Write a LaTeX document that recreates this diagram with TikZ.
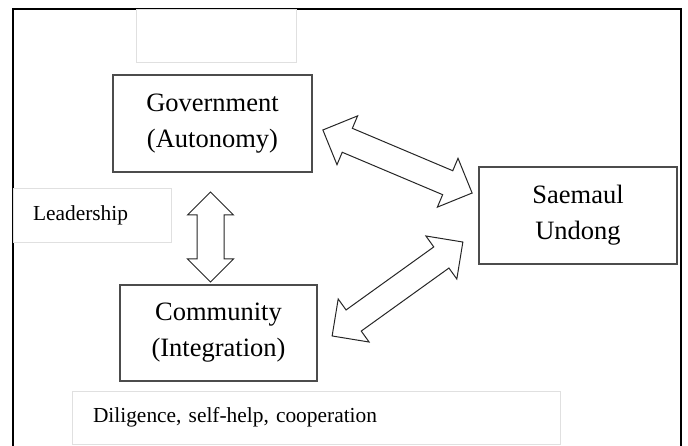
\documentclass[tikz,border=0pt]{standalone}
\usepackage{fontspec}
\setmainfont{Liberation Serif}
\usetikzlibrary{shapes.arrows}

\tikzset{
  mainbox/.style={draw=black!70, line width=1.6pt, align=center,
    font=\fontsize{26.5}{36}\selectfont},
  softbox/.style={draw=black!12, line width=0.8pt, inner ysep=0pt,
    font=\fontsize{21.4}{24}\selectfont, align=left},
  fatarrow/.style={double arrow, draw=black!85, fill=white, line width=1pt,
    inner xsep=0pt, double arrow tip angle=90}
}

\begin{document}
\begin{tikzpicture}[x=1pt, y=-1pt]
  \useasboundingbox (0,0) rectangle (688,446);

  % Outer frame (bottom edge runs off the page)
  \draw[line width=1.4pt] (13,470) -- (13,9) -- (681,9) -- (681,470);

  % Empty box at the top
  \node[softbox, minimum width=160pt, minimum height=53pt] (blank) at (216,35.5) {};

  % Main boxes
  \node[mainbox, minimum width=199pt, minimum height=97pt] (gov) at (212.5,123.5)
    {Government\\(Autonomy)};
  \node[mainbox, minimum width=197pt, minimum height=96pt] (com) at (218.5,333)
    {Community\\(Integration)};
  \node[mainbox, minimum width=198pt, minimum height=97pt] (su) at (578,215.5)
    {Saemaul\\Undong};

  % Side labels
  \node[softbox, inner xsep=20pt, text width=118pt, minimum height=54pt] (lead)
    at (92,215) {Leadership};
  \node[softbox, inner xsep=21pt, text width=446pt, minimum height=53pt] (dil)
    at (316,417.5) {Diligence, self-help, cooperation};

  % Hollow double arrows
  \node[fatarrow, minimum height=90pt, inner ysep=13pt,
    double arrow head extend=9.5pt, rotate=90] (gc) at (210.5,237) {};
  \node[fatarrow, minimum height=162pt, inner ysep=12.5pt,
    double arrow head extend=13.5pt, rotate=-22.9] (gs) at (397.5,161.5) {};
  \node[fatarrow, minimum height=161pt, inner ysep=12.5pt,
    double arrow head extend=13.5pt, rotate=35.7] (cs) at (397.5,289) {};
\end{tikzpicture}
\end{document}
